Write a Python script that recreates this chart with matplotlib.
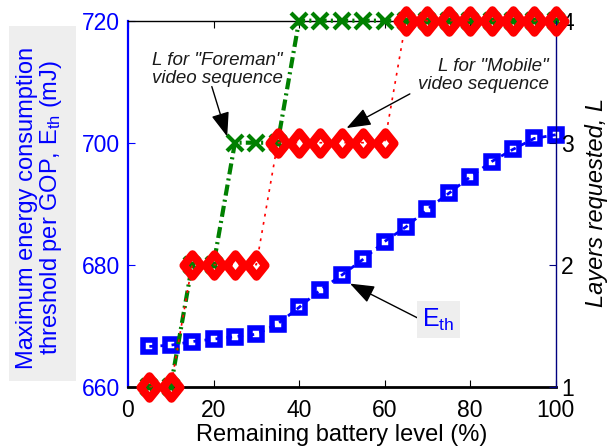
import matplotlib
matplotlib.use("Agg")
import matplotlib.pyplot as plt
from matplotlib.patches import Rectangle
from matplotlib.path import Path
from matplotlib.markers import MarkerStyle

plt.rcParams["font.family"] = ["Liberation Sans", "DejaVu Sans"]
plt.rcParams["mathtext.fontset"] = "custom"
plt.rcParams["mathtext.rm"] = "Liberation Sans"
plt.rcParams["mathtext.it"] = "Liberation Sans:italic"
plt.rcParams["lines.scale_dashes"] = False

# remaining battery level (%)
battery = [5, 10, 15, 20, 25, 30, 35, 40, 45, 50,
           55, 60, 65, 70, 75, 80, 85, 90, 95, 100]
# max energy threshold per GOP (mJ)
e_th = [666.6, 666.8, 667.4, 667.8, 668.2, 668.6, 670.3, 673.0, 675.9, 678.3,
        680.9, 683.8, 686.2, 689.1, 691.7, 694.4, 696.9, 698.9, 700.7, 701.3]
# layers requested
layers_foreman = [1, 1, 2, 2, 3, 3, 3, 4, 4, 4, 4, 4, 4, 4, 4, 4, 4, 4, 4, 4]
layers_mobile = [1, 1, 2, 2, 2, 2, 3, 3, 3, 3, 3, 3, 4, 4, 4, 4, 4, 4, 4, 4]

xticks = [0, 20, 40, 60, 80, 100]
e_ticks = [660, 680, 700, 720]
l_ticks = [1, 2, 3, 4]

BLUE = "#0000ff"
GREEN = "#008000"
RED = "#ff0000"
NAVY = "#000080"

# tall diamond like the matlab one, sharp corners
diamond = MarkerStyle(
    Path([(0, 1), (0.8, 0), (0, -1), (-0.8, 0), (0, 1)],
         [Path.MOVETO, Path.LINETO, Path.LINETO, Path.LINETO, Path.CLOSEPOLY]),
    joinstyle="miter")

fig = plt.figure(figsize=(6.10, 4.47), dpi=100)
ax1 = fig.add_axes([0.2098, 0.1349, 0.7012, 0.8188])
ax2 = ax1.twinx()

# energy threshold curve
ax1.plot(battery, e_th, color=BLUE, lw=2, dashes=(4, 4), marker="s", ms=9,
         mew=4, mfc="none", mec=BLUE, clip_on=False, zorder=3)
ax1.set_xlim(0, 100)
ax1.set_ylim(660, 720)
ax1.set_xticks(xticks)
ax1.set_yticks(e_ticks)
ax1.tick_params(axis="x", direction="in", top=True, length=5, labelsize=16.5,
                pad=9, colors="black")
ax1.tick_params(axis="y", direction="in", length=5, labelsize=16.5, pad=6,
                colors=BLUE)
ax1.spines["left"].set_color(BLUE)
ax1.spines["left"].set_linewidth(1.6)
ax1.spines["bottom"].set_linewidth(2)
ax1.spines["top"].set_linewidth(1)
ax1.spines["right"].set_visible(False)
ax1.set_xlabel("Remaining battery level (%)", fontsize=17, labelpad=1)

# layers for both sequences
ax2.plot(battery, layers_foreman, color=GREEN, lw=3, dashes=(8, 3, 1.5, 3),
         marker="x", ms=11, mew=3, clip_on=False, zorder=2)
ax2.plot(battery, layers_mobile, color=RED, lw=1.2, dashes=(2, 4),
         marker=diamond, ms=16, mew=6, mfc="none", mec=RED,
         clip_on=False, zorder=3)
ax2.set_ylim(1, 4)
ax2.set_yticks(l_ticks)
ax2.tick_params(axis="y", direction="in", length=5, labelsize=16.5, pad=4,
                color=NAVY, labelcolor="black")
for s in ["left", "top", "bottom"]:
    ax2.spines[s].set_visible(False)
ax2.spines["right"].set_color(NAVY)
ax2.spines["right"].set_linewidth(1)

# axis titles
fig.patches.append(Rectangle((9 / 610, 1 - 381 / 447), 67 / 610, 355 / 447,
                             transform=fig.transFigure, facecolor="#eeeeee",
                             edgecolor="none", zorder=0))
fig.text(0.066, 0.535,
         "Maximum energy consumption\nthreshold per GOP, E$_{\\rm th}$ (mJ)",
         rotation=90, ha="center", va="center", fontsize=17, color=BLUE,
         linespacing=1.0, multialignment="center")
fig.text(0.978, 0.547, "Layers requested, L", rotation=90, ha="center",
         va="center", fontsize=17, style="italic")

# callouts
head = "-|>,head_length=0.75,head_width=0.28"
arrow_kw = dict(arrowstyle=head, color="black", lw=1, mutation_scale=20,
                shrinkA=0, shrinkB=0)
ax2.text(0.055, 0.866, "L for \"Foreman\"\nvideo sequence", transform=ax2.transAxes,
         ha="left", va="center", fontsize=13.5, style="italic", color="#1a1a1a",
         linespacing=1.05)
ax2.annotate("", xy=(23.2, 3.05), xytext=(19.6, 3.46), arrowprops=arrow_kw)

ax2.text(0.983, 0.85, "L for \"Mobile\"\nvideo sequence", transform=ax2.transAxes,
         ha="right", va="center", fontsize=13.5, style="italic", color="#1a1a1a",
         linespacing=1.05, multialignment="right")
ax2.annotate("", xy=(51.1, 3.12), xytext=(65.9, 3.40), arrowprops=arrow_kw)

ax1.annotate("", xy=(51.9, 676.9), xytext=(67.9, 671.2), arrowprops=arrow_kw)
ax1.text(72.6, 671.0, "E$_{\\rm th}$", ha="center", va="center", fontsize=18,
         color=BLUE, zorder=5,
         bbox=dict(facecolor="#eeeeee", edgecolor="none", pad=4))

fig.savefig("out.png", dpi=100)
